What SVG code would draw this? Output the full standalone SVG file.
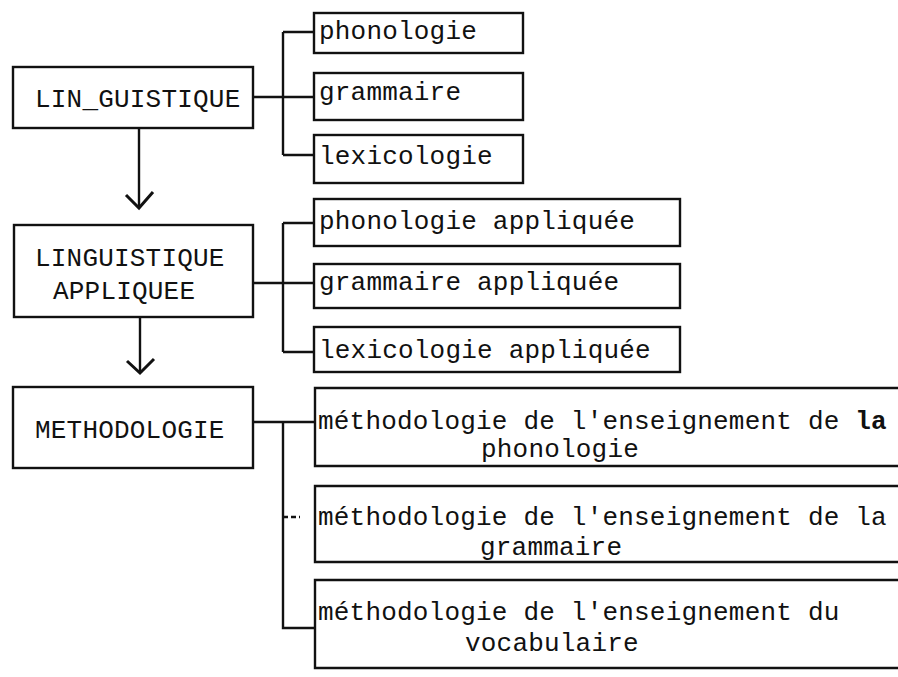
<svg xmlns="http://www.w3.org/2000/svg" width="898" height="677" viewBox="0 0 898 677">
<style>
  .box { fill: none; stroke: #111; stroke-width: 2.4; stroke-linejoin: miter; }
  .open { fill: none; stroke: #111; stroke-width: 2.4; }
  .t { font-family: "Liberation Mono", "Courier New", monospace; font-size: 26px; letter-spacing: 0.2px; fill: #111; }
  .c { fill: none; stroke: #111; stroke-width: 2.4; }
  .ah { fill: none; stroke: #111; stroke-width: 3; stroke-linejoin: miter; }
</style>
<rect width="898" height="677" fill="#fff"/>

<g id="linguistique">
  <rect class="box" x="13" y="67" width="240" height="61"/>
  <text class="t" x="35" y="107">LIN_GUISTIQUE</text>
</g>
<g id="phonologie">
  <rect class="box" x="314" y="13" width="209" height="40"/>
  <text class="t" x="319" y="39">phonologie</text>
</g>
<g id="grammaire">
  <rect class="box" x="314" y="73" width="209" height="47"/>
  <text class="t" x="319" y="100">grammaire</text>
</g>
<g id="lexicologie">
  <rect class="box" x="314" y="135" width="209" height="48"/>
  <text class="t" x="319" y="164">lexicologie</text>
</g>

<g id="linguistique-appliquee">
  <rect class="box" x="14" y="225" width="239" height="92"/>
  <text class="t" x="35" y="266">LINGUISTIQUE</text>
  <text class="t" x="53" y="299">APPLIQUEE</text>
</g>
<g id="phonologie-appliquee">
  <rect class="box" x="314" y="199" width="366" height="47"/>
  <text class="t" x="319" y="229">phonologie appliquée</text>
</g>
<g id="grammaire-appliquee">
  <rect class="box" x="314" y="264" width="366" height="44"/>
  <text class="t" x="319" y="290">grammaire appliquée</text>
</g>
<g id="lexicologie-appliquee">
  <rect class="box" x="314" y="327" width="366" height="45"/>
  <text class="t" x="319" y="358">lexicologie appliquée</text>
</g>

<g id="methodologie">
  <rect class="box" x="13" y="387" width="240" height="81"/>
  <text class="t" x="35" y="438">METHODOLOGIE</text>
</g>
<g id="methodologie-phonologie">
  <path class="open" d="M898,388 H315 V466 H898"/>
  <text class="t" x="318" y="429">méthodologie de l'enseignement de <tspan font-weight="bold">la</tspan></text>
  <text class="t" x="481" y="457">phonologie</text>
</g>
<g id="methodologie-grammaire">
  <path class="open" d="M898,486 H315 V562 H898"/>
  <text class="t" x="318" y="525">méthodologie de l'enseignement de la</text>
  <text class="t" x="480" y="555">grammaire</text>
</g>
<g id="methodologie-vocabulaire">
  <path class="open" d="M898,580 H315 V668 H898"/>
  <text class="t" x="318" y="620">méthodologie de l'enseignement du</text>
  <text class="t" x="465" y="651">vocabulaire</text>
</g>

<g id="connectors">
  <!-- group 1 -->
  <path class="c" d="M253,97 H314"/>
  <path class="c" d="M283,32 V155"/>
  <path class="c" d="M283,32 H314 M283,155 H314"/>
  <!-- group 2 -->
  <path class="c" d="M253,283 H314"/>
  <path class="c" d="M283,223 V352"/>
  <path class="c" d="M283,223 H314 M283,352 H314"/>
  <!-- group 3 -->
  <path class="c" d="M253,422 H315"/>
  <path class="c" d="M283,422 V628 H315"/>
  <path class="c" d="M283,517 H300" stroke-dasharray="5,3"/>
  <!-- vertical arrows -->
  <path class="c" d="M139,128 V207"/>
  <path class="ah" d="M126,195 L139,208 L153,192"/>
  <path class="c" d="M140,317 V372"/>
  <path class="ah" d="M127,361 L140,373 L154,359"/>
</g>
</svg>
